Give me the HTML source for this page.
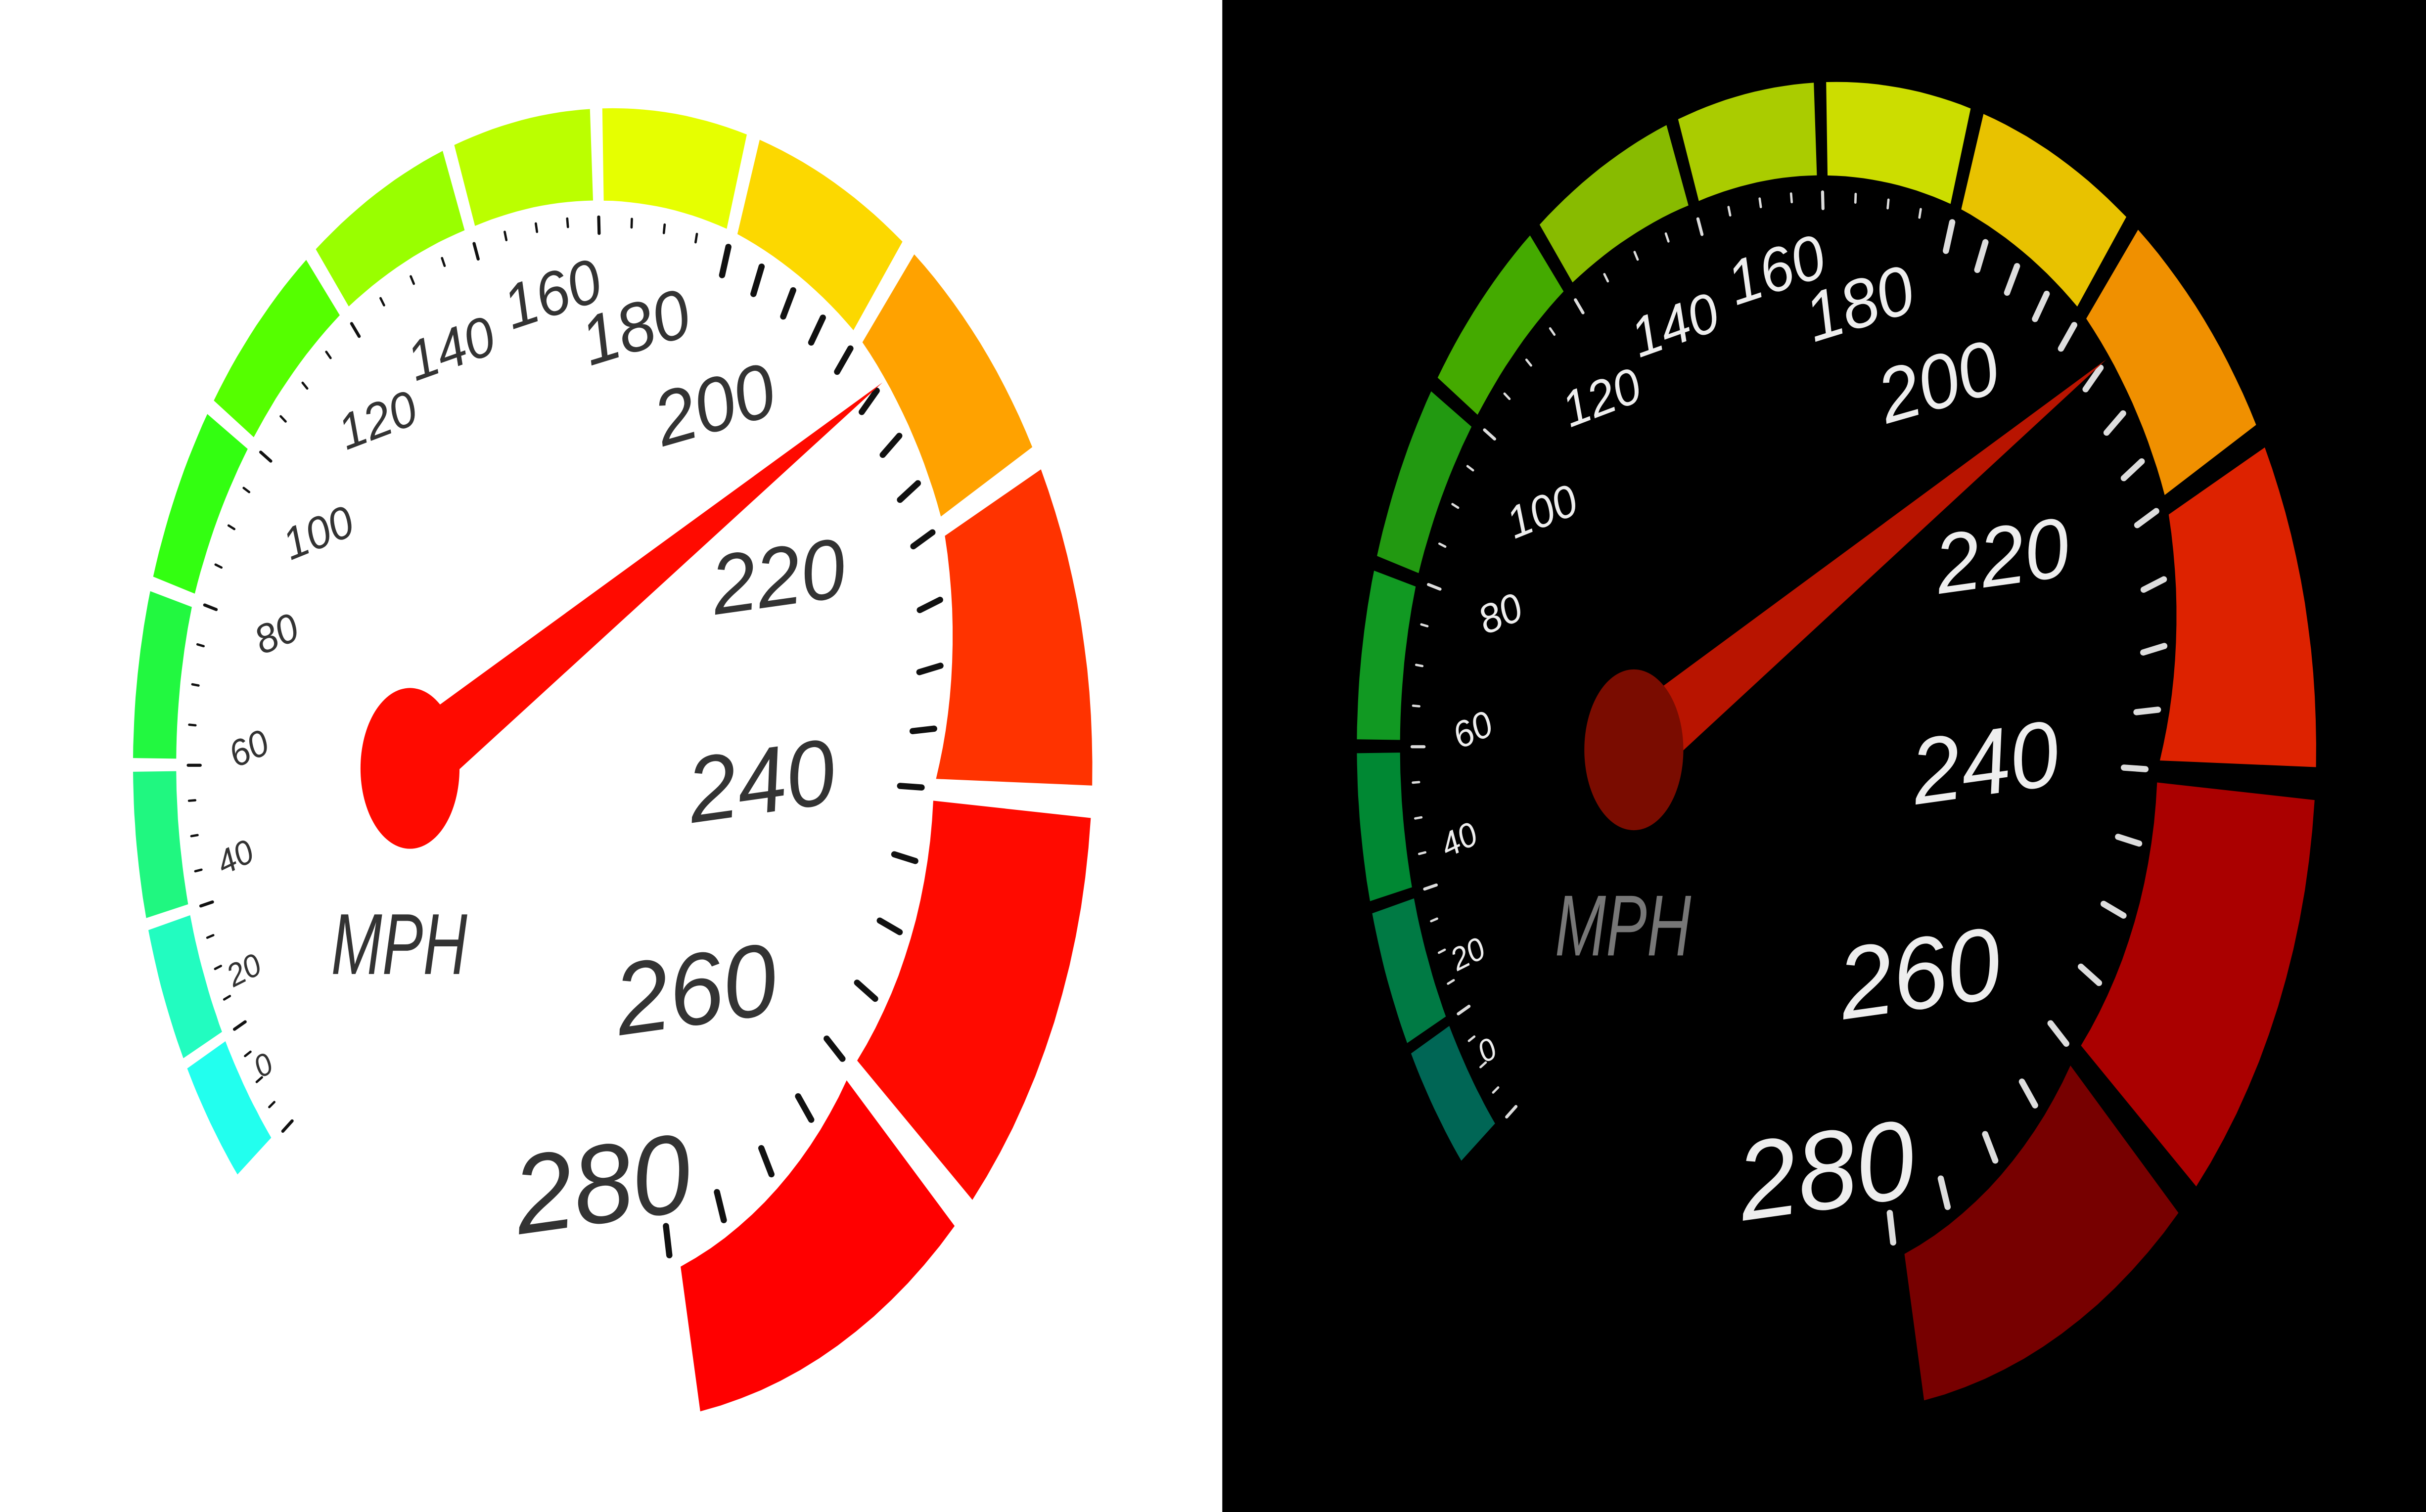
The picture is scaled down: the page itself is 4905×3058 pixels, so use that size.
<!DOCTYPE html>
<html><head><meta charset="utf-8"><style>
html,body{margin:0;padding:0;background:#fff;}
svg{display:block;}
</style></head><body>
<svg id="s" width="4905" height="3058" viewBox="0 0 1568 978" preserveAspectRatio="none" xmlns="http://www.w3.org/2000/svg">
<rect x="0" y="0" width="790" height="978" fill="#ffffff"/>
<rect x="790" y="0" width="778" height="978" fill="#000000"/>
</svg>
<script>
const labels = [0,20,40,60,80,100,120,140,160,180,200,220,240,260,280];
const bandAngles = [141,153,166,180,196,213,231,250,268,287,308,332,363,403,441];
const labelAngles = [148,158,170,182,196,210,227,242,260,274,291,320,364,423,452];
const labelK = [0.86,0.83,0.80,0.76,0.73,0.71,0.72,0.72,0.73,0.67,0.59,0.45,0.31,0.38,0.635];
const bandWidths = [0.09,0.09,0.09,0.09,0.09,0.1,0.11,0.13,0.14,0.15,0.17,0.22,0.33,0.32,0.22];
const segColorsLight = ['#22ffee','#22fcc0','#20f780','#22f840','#33ff11','#55ff00','#99ff00','#bbff00','#e6ff00','#fcd800','#ffa200','#ff3300','#ff0a00','#ff0000'];
const segColorsDark = ['#006655','#007a44','#008833','#119922','#229911','#44aa00','#88bb00','#aacc00','#ccdd00','#e8c200','#f09000','#dd2200','#aa0000','#770000'];
const needleValue = 205;

const NS='http://www.w3.org/2000/svg';
const svg=document.getElementById('s');
function interp(arr,v){
  const i=Math.min(Math.floor(v/20),labels.length-2);
  const f=(v-labels[i])/20;
  return arr[i]+(arr[i+1]-arr[i])*f;
}
function ang(v){return interp(bandAngles,v)*Math.PI/180;}
function bandW(v){return interp(bandWidths,v);}
function mk(tag,attrs,parent){const e=document.createElementNS(NS,tag);for(const k in attrs)e.setAttribute(k,attrs[k]);parent.appendChild(e);return e;}

function gauge(cx,cy,rxL,rxR,ry,colors,tickColor,labelColor,needleCol,hubCol,mphCol,prefix){
  const g=mk('g',{},svg);
  
  
  const PA=(a,k)=>{const c=Math.cos(a);return [cx+(c<0?rxL:rxR)*k*c,cy+ry*k*Math.sin(a)];};
  const P=(v,k)=>PA(ang(v),k);
  for(let s=0;s<labels.length-1;s++){
    const v0=labels[s]+0.8, v1=labels[s+1]-0.8;
    let pts=[];
    for(let i=0;i<=14;i++){const v=v0+(v1-v0)*i/14;pts.push(P(v,1));}
    for(let i=14;i>=0;i--){const v=v0+(v1-v0)*i/14;pts.push(P(v,1-bandW(v)));}
    const p=mk('polygon',{points:pts.map(q=>q[0].toFixed(1)+','+q[1].toFixed(1)).join(' '),fill:colors[s]},g);
    
    
  }
  for(let v=0;v<=280;v+=5){
    const kin=1-bandW(v);
    const major=v%20===0;
    const big=v>=180;
    const a=P(v,kin-0.025), b=P(v,kin-(big?0.07:(major?0.05:0.038)));
    const t=mk('line',{x1:a[0],y1:a[1],x2:b[0],y2:b[1],stroke:tickColor,'stroke-width':big?4:(major?2:1.5),'stroke-linecap':'round'},g);
    
    
  }
  labels.forEach((v,i)=>{
    const sz=20+52*Math.pow(v/280,1.7);
    const p=PA(labelAngles[i]*Math.PI/180,labelK[i]);
    const t=mk('text',{x:p[0],y:p[1]+sz*0.36,'font-size':sz,'font-family':'Liberation Sans, sans-serif','text-anchor':'middle',fill:labelColor,'font-style':'italic',textLength:sz*0.56*String(v).length*0.95,lengthAdjust:'spacingAndGlyphs'},g);
    t.setAttribute('transform','rotate('+(v<=200?-28+v*0.06:-8)+' '+p[0]+' '+p[1]+')');
    t.textContent=v;
    
    
  });
  const m=mk('text',{x:cx-138,y:cy+135,'font-size':56,'font-family':'Liberation Sans, sans-serif','text-anchor':'middle',fill:mphCol,'font-style':'italic',textLength:88,lengthAdjust:'spacingAndGlyphs'},g);
  m.textContent='MPH';
  
  
  const hx=cx-131, hy=cy+2;
  const tip=P(needleValue,0.81);
  const dx=tip[0]-hx, dy=tip[1]-hy, L=Math.hypot(dx,dy), nx=-dy/L, ny=dx/L;
  const n=mk('polygon',{points:[[hx+nx*22,hy+ny*22],[tip[0],tip[1]],[hx-nx*22,hy-ny*22]].map(q=>q.join(',')).join(' '),fill:needleCol},g);
  
  
  const h=mk('ellipse',{cx:hx,cy:hy,rx:32,ry:52,fill:hubCol},g);
  
  
}
gauge(396,495,310,310,425,segColorsLight,'#111','#333','#ff0a00','#ff0a00','#333','light');
gauge(1187,483,310,310,430,segColorsDark,'#ddd','#eee','#b81400','#7a0c00','#777','dark');
</script>
</body></html>
